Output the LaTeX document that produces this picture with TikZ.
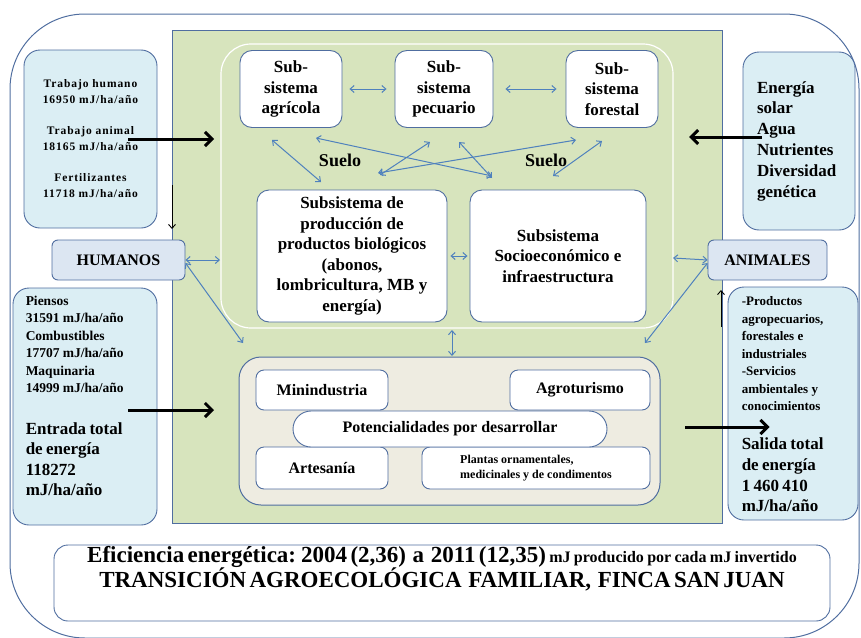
\documentclass[tikz,border=0pt]{standalone}
\usepackage{fontspec}
\setmainfont{Liberation Serif}
\newfontfamily\spacedfont{Liberation Serif}[LetterSpace=8]
\usetikzlibrary{arrows.meta,positioning}
\definecolor{edge}{RGB}{80,110,160}
\definecolor{skyfill}{RGB}{219,238,244}
\definecolor{tagfill}{RGB}{220,230,242}
\definecolor{leaf}{RGB}{215,228,189}
\definecolor{sand}{RGB}{238,236,225}
\definecolor{linkblue}{RGB}{79,129,189}
\tikzset{
  infobox/.style={draw=edge, fill=skyfill, line width=0.9pt, rounded corners=16pt, inner sep=0pt},
  infotext/.style={inner sep=0pt, align=left, font=\bfseries},
  tagbox/.style={draw=edge, fill=tagfill, line width=0.9pt, rounded corners=6pt, inner sep=0pt,
    font=\bfseries\fontsize{16}{19}\selectfont},
  subbox/.style={draw=edge, fill=white, line width=0.9pt, rounded corners=12pt, align=center,
    inner sep=0pt, font=\bfseries\fontsize{17}{20.5}\selectfont},
  smallbox/.style={subbox, rounded corners=8pt, font=\bfseries\fontsize{16}{19}\selectfont},
  link/.style={draw=linkblue, line width=1pt,
    {Straight Barb[length=4pt,width=7pt]}-{Straight Barb[length=4pt,width=7pt]}},
  flow/.style={line width=3pt, -{Straight Barb[length=7pt,width=14pt]}},
  thinflow/.style={line width=0.9pt, -{Straight Barb[length=4pt,width=7pt]}},
}
\begin{document}
\begin{tikzpicture}[x=1pt,y=-1pt]
\useasboundingbox (0,0) rectangle (861,637);
% outer frame and farm area
\draw[edge, line width=1pt, rounded corners=75pt] (10,14) rectangle (859,638);
\draw[edge, fill=leaf, line width=1pt] (172,30) rectangle (722,523);
\draw[white, line width=1.2pt, rounded corners=30pt] (221,44) rectangle (673,328);
\draw[edge, fill=sand, line width=1pt, rounded corners=22pt] (239,357) rectangle (660,505);

% subsystems
\node[subbox, minimum width=102pt, minimum height=77pt] (agri) at (291,89) {Sub-\\sistema\\agrícola};
\node[subbox, minimum width=98pt, minimum height=77pt] (pecu) at (444,89) {Sub-\\sistema\\pecuario};
\node[subbox, minimum width=92pt, minimum height=77pt] (fore) at (612,89) {Sub-\\sistema\\forestal};
\node[subbox, minimum width=190pt, minimum height=132pt] (prod) at (352,256)
  {Subsistema de\\producción de\\productos biológicos\\(abonos,\\lombricultura, MB y\\energía)};
\node[subbox, minimum width=176pt, minimum height=132pt] (socio) at (558,256)
  {Subsistema\\Socioeconómico e\\infraestructura};
\node[font=\bfseries\fontsize{18}{20}\selectfont] (suelo1) at (340,160) {Suelo};
\node[font=\bfseries\fontsize{18}{20}\selectfont] (suelo2) at (546,160) {Suelo};

% potentialities
\node[smallbox, minimum width=132pt, minimum height=40pt] (mini) at (322,390) {Minindustria};
\node[smallbox, minimum width=140pt, minimum height=40pt] (agro) at (580,390) {Agroturismo};
\node[smallbox, minimum width=132pt, minimum height=42pt] (art) at (322,468) {Artesanía};
\node[smallbox, minimum width=228pt, minimum height=42pt, align=left,
  font=\bfseries\fontsize{12}{14.5}\selectfont] (plant) at (536,468)
  {Plantas ornamentales,\\medicinales y de condimentos};
\node[smallbox, minimum width=314pt, minimum height=36pt, rounded corners=18pt] (pot) at (450,429)
  {Potencialidades por desarrollar};

% inputs and outputs
\node[infobox, minimum width=133pt, minimum height=178pt, align=center,
  font=\spacedfont\bfseries\fontsize{11.5}{16}\selectfont] (labor) at (90.5,139)
  {Trabajo humano\\16950 mJ/ha/año\\[15pt]Trabajo animal\\18165 mJ/ha/año\\[15pt]Fertilizantes\\11718 mJ/ha/año};
\node[tagbox, minimum width=133pt, minimum height=40pt] (humanos) at (118.5,260) {HUMANOS};
\node[infobox, minimum width=144pt, minimum height=237pt] (supplies) at (85,406.5) {};
\node[infotext, text width=120pt, below right=8pt and 13pt of supplies.north west] (suppliestext)
  {{\fontsize{13.5}{17.5}\selectfont Piensos\\31591 mJ/ha/año\\Combustibles\\17707 mJ/ha/año\\Maquinaria\\14999 mJ/ha/año\par}
   \vspace{21pt}
   {\fontsize{17}{20.5}\selectfont Entrada total\\de energía\\118272\\mJ/ha/año\par}};
\node[infobox, minimum width=112pt, minimum height=178pt, text width=84pt, align=left,
  font=\bfseries\fontsize{17}{20.8}\selectfont] (nature) at (799,141)
  {Energía\\solar\\Agua\\Nutrientes\\Diversidad\\genética};
\node[tagbox, minimum width=119pt, minimum height=40pt] (animales) at (767.5,260) {ANIMALES};
\node[infobox, minimum width=130pt, minimum height=233pt] (outputs) at (793,403.5) {};
\node[infotext, text width=114pt, below right=10pt and 14pt of outputs.north west] (outputstext)
  {{\fontsize{13}{17.5}\selectfont -Productos\\agropecuarios,\\forestales e\\industriales\\-Servicios\\ambientales y\\conocimientos\par}
   \vspace{18pt}
   {\fontsize{17}{20.8}\selectfont Salida total\\de energía\\1 460 410\\mJ/ha/año\par}};

% summary
\node[draw=edge, line width=0.9pt, fill=white, rounded corners=14pt, minimum width=776pt,
  minimum height=76pt] (summary) at (442,583) {};
\node[below=2pt of summary.north, text width=780pt, align=center, inner sep=0pt, font=\bfseries] (summarytext)
  {\fontsize{23}{25}\selectfont Eficiencia energética: 2004 (2,36) \ a \ 2011 (12,35)
   {\fontsize{16}{25}\selectfont mJ producido por cada mJ invertido}\\
   TRANSICIÓN AGROECOLÓGICA \ FAMILIAR, \ FINCA SAN JUAN\par};

% free ends
\coordinate (farmW1) at (214,139);
\coordinate (farmE1) at (689,137);
\coordinate (farmW2) at (214,410);
\coordinate (farmE2) at (685,427);
\coordinate (edgeW1) at (172,185);
\coordinate (edgeW2) at (172,229);
\coordinate (edgeE1) at (721,327);
\coordinate (edgeE2) at (721,290);
\coordinate (humA) at (220,260);
\coordinate (humB) at (243,343);
\coordinate (aniA) at (673,258);
\coordinate (aniB) at (645,343);
\coordinate (coreS) at (452,330);
\coordinate (potN) at (452,356);
\coordinate (s1) at (272,140); \coordinate (t1) at (321,182);
\coordinate (s2) at (316,138); \coordinate (t2) at (492,176);
\coordinate (s3) at (430,142); \coordinate (t3) at (380,175);
\coordinate (s4) at (459,142); \coordinate (t4) at (492,178);
\coordinate (s5) at (576,140); \coordinate (t5) at (378,173);
\coordinate (s6) at (602,141); \coordinate (t6) at (553,176);

% energy flows
\draw[flow] ([xshift=-29pt]labor.east) -- (farmW1);
\draw[flow] ([xshift=19pt,yshift=4pt]nature.west) -- (farmE1);
\draw[flow] ([xshift=-29pt,yshift=-3.5pt]supplies.east) -- (farmW2);
\draw[flow] (farmE2) -- ([xshift=42pt,yshift=-23.5pt]outputs.west);
\draw[thinflow] (edgeW1) -- (edgeW2);
\draw[thinflow] (edgeE1) -- (edgeE2);

% interactions
\draw[link, shorten <=7pt, shorten >=8pt] (agri) -- (pecu);
\draw[link, shorten <=12pt, shorten >=9pt] (pecu) -- (fore);
\draw[link, shorten <=3pt, shorten >=2pt] (prod) -- (socio);
\draw[link] (humanos.east) -- (humA);
\draw[link] ([yshift=-3pt]humanos.east) -- (humB);
\draw[link] (aniA) -- (animales.west);
\draw[link] ([yshift=-3pt]animales.west) -- (aniB);
\draw[link] (coreS) -- (potN);
\foreach \i in {1,...,6}
  \draw[link] (s\i) -- (t\i);
\end{tikzpicture}
\end{document}
